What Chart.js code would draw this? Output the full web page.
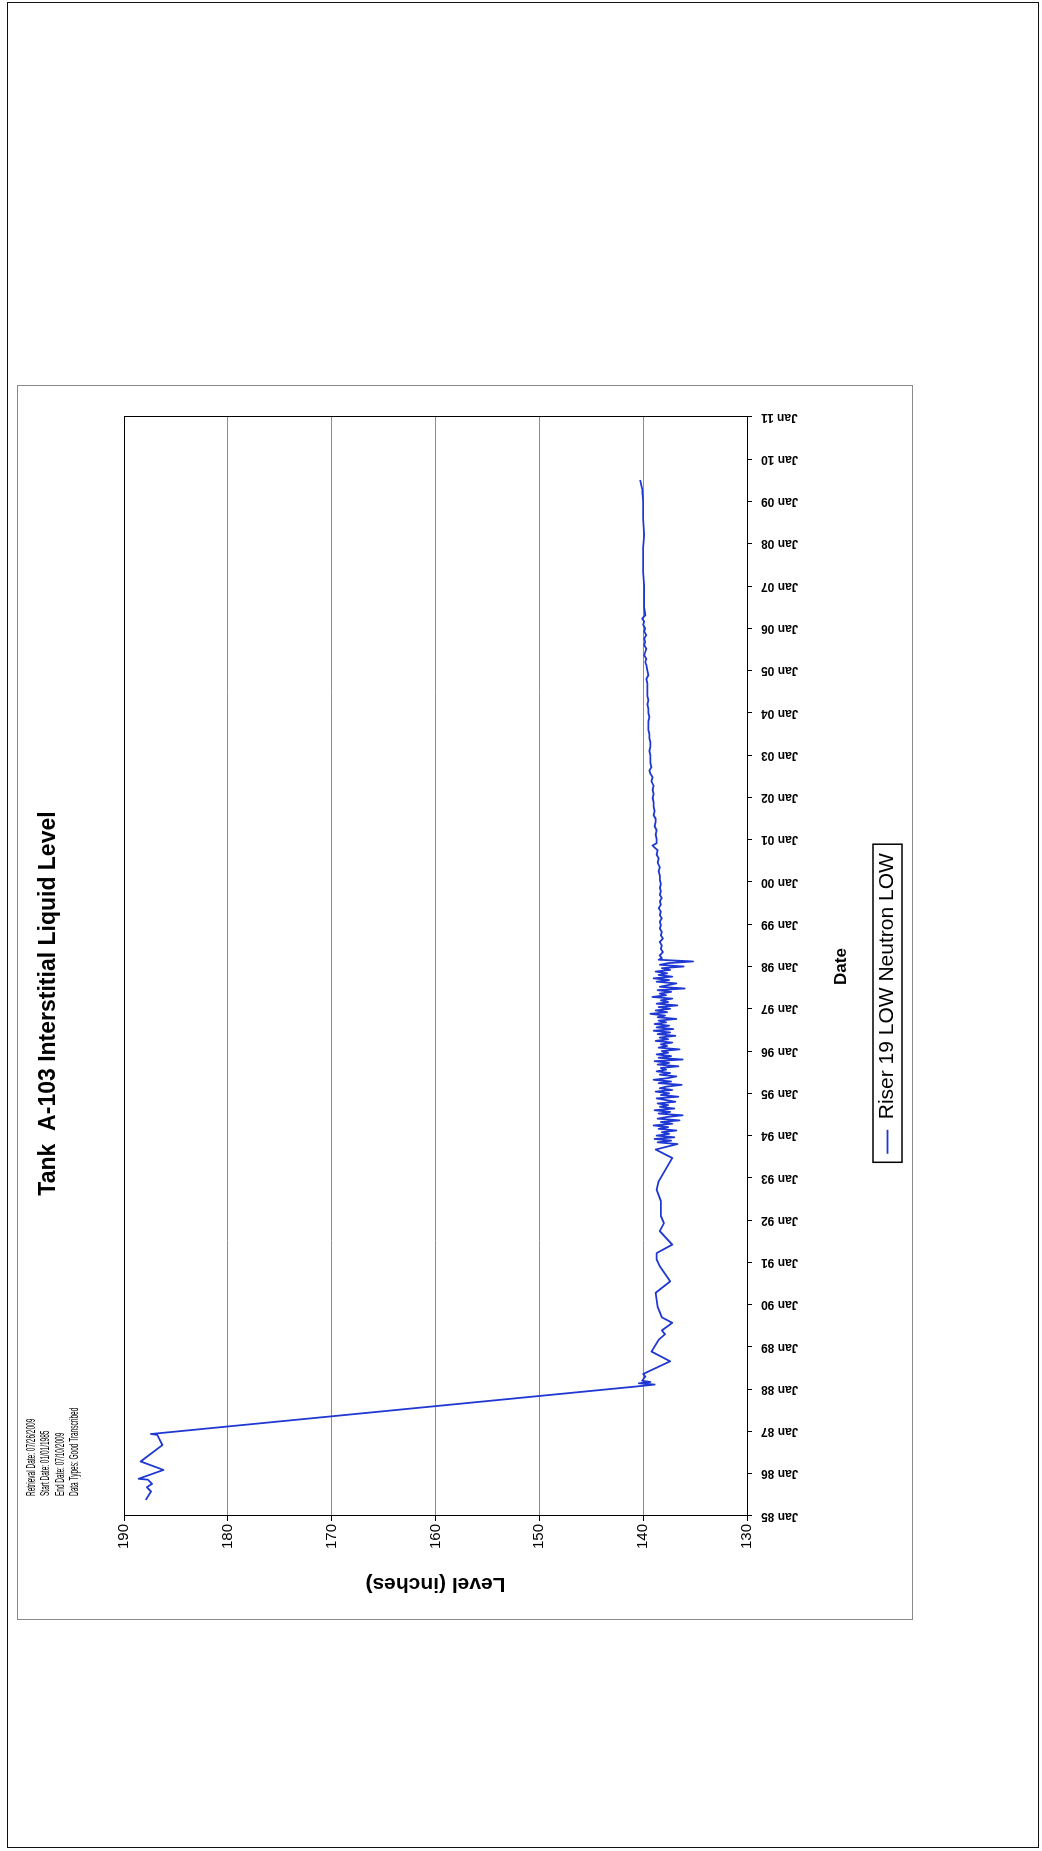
<!DOCTYPE html>
<html>
<head>
<meta charset="utf-8">
<title>Tank A-103 Interstitial Liquid Level</title>
<script src="https://cdn.jsdelivr.net/npm/chart.js@4.4.1/dist/chart.umd.min.js"></script>
<style>
  html, body { margin: 0; padding: 0; background: #fff; }
  body { width: 1042px; height: 1851px; position: relative; overflow: hidden; }
  #page { position: absolute; left: 7px; top: 2px; width: 1032px; height: 1846px; border: 1.5px solid #111; box-sizing: border-box; }
  /* chart is drawn landscape, then turned a quarter turn counter-clockwise onto the page */
  #wrap { position: absolute; left: 0; top: 0; width: 1235px; height: 896px; transform-origin: 0 0; transform: translate(17px, 1620px) rotate(-90deg); }
  canvas { display: block; }
</style>
</head>
<body>
<div id="page"></div>
<div id="wrap"><canvas id="levelChart" width="1235" height="896"></canvas></div>
<script>
// Textos
const chartTitle = 'Tank  A-103 Interstitial Liquid Level';
const seriesName = 'Riser 19 LOW Neutron LOW';
const infoLines = [
    'Retrieval Date: 07/26/2009',
    'Start Date: 01/01/1985',
    'End Date: 07/10/2009',
    'Data Types: Good Transcribed'
];

// Eixo X (anos decimais) e rótulos
const tickLabels = ['Jan 85', 'Jan 86', 'Jan 87', 'Jan 88', 'Jan 89', 'Jan 90', 'Jan 91',
                    'Jan 92', 'Jan 93', 'Jan 94', 'Jan 95', 'Jan 96', 'Jan 97', 'Jan 98',
                    'Jan 99', 'Jan 00', 'Jan 01', 'Jan 02', 'Jan 03', 'Jan 04', 'Jan 05',
                    'Jan 06', 'Jan 07', 'Jan 08', 'Jan 09', 'Jan 10', 'Jan 11'];
const levelTicks = [130, 140, 150, 160, 170, 180, 190];

// Leituras: data (ano decimal) e nível (polegadas)
const dates = [
    // 1985 - 1987
    1985.38, 1985.58, 1985.68, 1985.76, 1985.86, 1985.88, 1986.09, 1986.29, 1986.68, 1986.92, 1986.94,
    // 1988 - 1993
    1988.08, 1988.11, 1988.14, 1988.17, 1988.20, 1988.30, 1988.36, 1988.66, 1988.89, 1989.17,
    1989.30, 1989.39, 1989.57, 1989.70, 1989.95, 1990.28, 1990.55, 1990.91, 1991.07, 1991.22,
    1991.42, 1991.74, 1991.93, 1992.10, 1992.45, 1992.72, 1992.92, 1993.47, 1993.67,
    // 1994 - 1998 (ruidoso)
    1993.80, 1993.84, 1993.88, 1993.92, 1993.96, 1994.00, 1994.04, 1994.08, 1994.12, 1994.16,
    1994.20, 1994.24, 1994.28, 1994.32, 1994.36, 1994.40, 1994.44, 1994.48, 1994.52, 1994.56,
    1994.60, 1994.64, 1994.68, 1994.72, 1994.76, 1994.80, 1994.84, 1994.88, 1994.92, 1994.96,
    1995.00, 1995.04, 1995.08, 1995.12, 1995.16, 1995.20, 1995.24, 1995.28, 1995.32, 1995.36,
    1995.40, 1995.44, 1995.48, 1995.52, 1995.56, 1995.60, 1995.64, 1995.68, 1995.72, 1995.76,
    1995.80, 1995.84, 1995.88, 1995.92, 1995.96, 1996.00, 1996.04, 1996.08, 1996.12, 1996.16,
    1996.20, 1996.24, 1996.28, 1996.32, 1996.36, 1996.40, 1996.44, 1996.48, 1996.52, 1996.56,
    1996.60, 1996.64, 1996.68, 1996.72, 1996.76, 1996.80, 1996.84, 1996.88, 1996.92, 1996.96,
    1997.00, 1997.04, 1997.08, 1997.12, 1997.16, 1997.20, 1997.24, 1997.28, 1997.32, 1997.36,
    1997.40, 1997.44, 1997.48, 1997.52, 1997.56, 1997.60, 1997.64, 1997.68, 1997.72, 1997.76,
    1997.80, 1997.84, 1997.88, 1997.92, 1997.96, 1998.00, 1998.04, 1998.08, 1998.12, 1998.16, 1998.20,
    // 1998 - 2009
    1998.26, 1998.34, 1998.42, 1998.50, 1998.58, 1998.66, 1998.74, 1998.82, 1998.90, 1998.98,
    1999.06, 1999.14, 1999.22, 1999.30, 1999.38, 1999.46, 1999.54, 1999.62, 1999.70, 1999.78,
    1999.86, 1999.95, 2000.05, 2000.15, 2000.25, 2000.35, 2000.45, 2000.55, 2000.65, 2000.75,
    2000.86, 2000.92, 2001.02, 2001.12, 2001.22, 2001.32, 2001.42, 2001.50, 2001.58, 2001.68,
    2001.78, 2001.89, 2001.98, 2002.08, 2002.18, 2002.28, 2002.38, 2002.48, 2002.56, 2002.64,
    2002.72, 2002.82, 2002.91, 2003.00, 2003.10, 2003.20, 2003.31, 2003.40, 2003.50, 2003.60,
    2003.70, 2003.80, 2003.90, 2004.00, 2004.10, 2004.20, 2004.30, 2004.40, 2004.50, 2004.60,
    2004.70, 2004.80, 2004.89, 2005.00, 2005.13, 2005.20, 2005.28, 2005.36, 2005.44, 2005.52,
    2005.60, 2005.68, 2005.76, 2005.84, 2005.92, 2006.00, 2006.08, 2006.16, 2006.23, 2006.31,
    2006.50, 2006.71, 2007.00, 2007.34, 2007.58, 2007.90, 2008.21, 2008.60, 2009.00, 2009.30, 2009.51
];

const levels = [
    // 1985 - 1987
    187.9, 187.4, 187.8, 187.3, 187.7, 188.6, 186.2, 188.4, 186.3, 186.8, 187.4,
    // 1988 - 1993
    140.0, 138.9, 140.4, 139.3, 140.1, 139.8, 140.0, 137.4, 139.2, 138.5,
    137.9, 138.2, 137.2, 138.2, 138.6, 138.8, 137.4, 138.4, 138.7, 138.7,
    137.2, 138.4, 138.0, 138.3, 138.3, 138.7, 138.5, 137.2, 138.8,
    // 1994 - 1998 (ruidoso)
    136.7, 138.6, 137.3, 138.9, 137.0, 138.7, 137.5, 138.2, 136.8, 138.5,
    137.6, 139.0, 137.2, 138.3, 136.5, 138.6, 137.7, 136.2, 138.5, 137.4,
    138.9, 137.0, 138.4, 137.6, 138.6, 136.9, 137.8, 138.7, 136.6, 138.3,
    137.5, 138.8, 137.2, 138.4, 137.7, 136.3, 138.5, 137.3, 139.0, 137.6,
    136.8, 138.4, 137.4, 138.7, 137.8, 138.3, 136.6, 138.6, 137.5, 138.9,
    136.2, 138.5, 137.3, 138.7, 137.6, 138.2, 136.5, 138.5, 137.7, 138.3,
    137.2, 138.8, 137.6, 138.4, 136.9, 138.6, 137.4, 139.0, 137.1, 138.7,
    137.5, 138.9, 137.8, 138.5, 136.8, 138.6, 137.9, 139.3, 137.7, 138.8,
    137.4, 138.5, 136.7, 138.7, 137.6, 138.3, 137.2, 139.1, 137.8, 138.4,
    137.3, 138.6, 136.0, 138.4, 137.6, 136.8, 138.7, 137.5, 139.0, 137.2,
    138.5, 137.7, 138.8, 137.4, 138.2, 136.1, 138.4, 137.6, 135.2, 138.5, 138.2,
    // 1998 - 2009
    138.4, 138.1, 138.3, 138.2, 138.4, 138.1, 138.3, 138.2, 138.4, 138.3,
    138.4, 138.2, 138.4, 138.3, 138.5, 138.3, 138.4, 138.2, 138.4, 138.3,
    138.4, 138.3, 138.4, 138.4, 138.5, 138.4, 138.6, 138.5, 138.7, 138.6,
    139.1, 138.7, 138.7, 138.8, 138.7, 138.9, 138.8, 138.8, 139.0, 138.9,
    139.0, 139.0, 139.1, 139.0, 139.1, 139.0, 139.2, 139.1, 139.3, 139.4,
    139.2, 139.3, 139.3, 139.3, 139.4, 139.3, 139.3, 139.4, 139.4, 139.5,
    139.5, 139.5, 139.4, 139.5, 139.5, 139.6, 139.5, 139.6, 139.6, 139.6,
    139.6, 139.7, 139.5, 139.6, 139.7, 139.8, 139.7, 139.9, 139.8, 139.7,
    139.9, 139.8, 139.9, 139.7, 139.9, 139.8, 140.0, 139.9, 140.1, 139.8,
    139.9, 139.9, 139.9, 140.0, 140.0, 140.0, 139.9, 140.0, 140.0, 140.1, 140.3
];

const FONT = '"Liberation Sans", Arial, sans-serif';
Chart.defaults.font.family = FONT;
Chart.defaults.color = '#000';

// moldura externa, moldura do gráfico, notas e caixa da legenda
const decorations = {
    id: 'decorations',
    beforeDraw(chart) {
        const ctx = chart.ctx;
        ctx.save();
        ctx.fillStyle = '#fff';
        ctx.fillRect(0, 0, chart.width, chart.height);
        ctx.strokeStyle = '#8a8a8a';
        ctx.lineWidth = 1;
        ctx.strokeRect(0.5, 0.5, chart.width - 1, chart.height - 1);
        ctx.restore();
    },
    afterDraw(chart) {
        const ctx = chart.ctx;
        const a = chart.chartArea;
        ctx.save();
        ctx.strokeStyle = '#000';
        ctx.lineWidth = 1;
        ctx.strokeRect(a.left + 0.5, a.top + 0.5, a.right - a.left, a.bottom - a.top);

        // notas em fonte estreita
        ctx.fillStyle = '#000';
        ctx.font = '13px ' + FONT;
        ctx.textBaseline = 'middle';
        infoLines.forEach((line, i) => {
            ctx.save();
            ctx.translate(124, 14 + i * 14.5);
            ctx.scale(0.5, 1);
            ctx.fillText(line, 0, 0);
            ctx.restore();
        });

        const hb = chart.legend.legendHitBoxes[0];
        if (hb) {
            const cy = hb.top + hb.height / 2;
            ctx.lineWidth = 1.5;
            ctx.strokeRect(hb.left - 8.5, cy - 14.5, hb.width + 17.5, 29);
        }
        ctx.restore();
    }
};

new Chart(document.getElementById('levelChart'), {
    type: 'line',
    data: {
        datasets: [{
            label: seriesName,
            data: dates.map((d, i) => ({ x: d, y: levels[i] })),
            borderColor: '#2038d2',
            backgroundColor: '#2038d2',
            borderWidth: 1.8,
            borderJoinStyle: 'round',
            pointRadius: 0,
            tension: 0,
            fill: false
        }]
    },
    options: {
        responsive: false,
        animation: false,
        devicePixelRatio: 1,
        layout: { padding: { left: 30, right: 32, top: 0, bottom: 5 } },
        plugins: {
            title: {
                display: true,
                text: chartTitle,
                color: '#000',
                font: { size: 23, weight: 'bold' },
                padding: { top: 17.7, bottom: 61.7 }
            },
            legend: {
                display: true,
                position: 'bottom',
                labels: {
                    usePointStyle: true,
                    pointStyle: 'line',
                    pointStyleWidth: 24,
                    color: '#000',
                    font: { size: 21 },
                    padding: 10
                }
            },
            tooltip: { enabled: false }
        },
        scales: {
            x: {
                type: 'linear',
                min: 1985,
                max: 2011,
                afterFit: (scale) => { scale.height = 120; },
                ticks: {
                    stepSize: 1,
                    autoSkip: false,
                    minRotation: 90,
                    maxRotation: 90,
                    padding: 9,
                    color: '#000',
                    font: { size: 12, weight: 'bold' },
                    callback: (val) => tickLabels[Math.round(val - 1985)]
                },
                grid: {
                    drawOnChartArea: false,
                    drawTicks: true,
                    tickLength: 5,
                    tickColor: '#000'
                },
                border: { display: true, color: '#000', width: 1 },
                title: {
                    display: true,
                    text: 'Date',
                    color: '#000',
                    font: { size: 17, weight: 'bold' },
                    padding: { top: 0, bottom: 15.8 }
                }
            },
            y: {
                type: 'linear',
                min: levelTicks[0],
                max: levelTicks[levelTicks.length - 1],
                afterFit: (scale) => { scale.width = 74; },
                ticks: {
                    stepSize: 10,
                    padding: 3,
                    color: '#000',
                    font: { size: 15 }
                },
                grid: {
                    color: '#8c8c8c',
                    lineWidth: 1,
                    tickLength: 5,
                    tickColor: '#000'
                },
                border: { display: true, color: '#000', width: 1 },
                title: {
                    display: true,
                    text: 'Level (inches)',
                    color: '#000',
                    font: { size: 21, weight: 'bold' },
                    padding: { top: -6.6, bottom: 0 }
                }
            }
        }
    },
    plugins: [decorations]
});
</script>
</body>
</html>
